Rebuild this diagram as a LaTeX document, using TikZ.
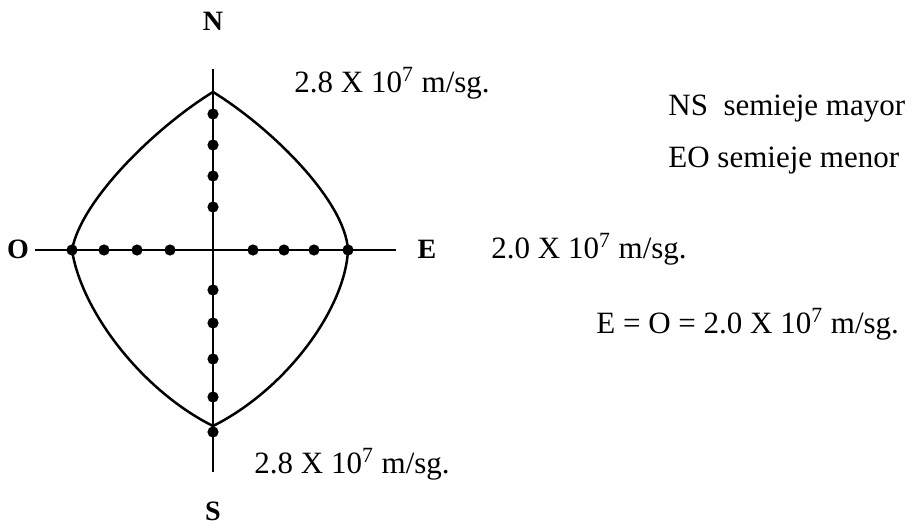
\documentclass[tikz,border=0pt]{standalone}
\usepackage{fontspec}
\setmainfont{Liberation Serif}
\usetikzlibrary{positioning}

\tikzset{
  axisline/.style={line width=0.75pt},
  orbit/.style={line width=1.25pt},
  dotmark/.style={circle,fill=black,inner sep=0pt,minimum size=5.6pt},
  compass/.style={font=\fontsize{14}{16}\selectfont\bfseries,inner sep=0pt},
  speed/.style={font=\fontsize{15.5}{18}\selectfont,inner sep=0pt,anchor=base west}
}

\begin{document}
\begin{tikzpicture}[x=0.5pt,y=-0.5pt]
  \useasboundingbox (0,0) rectangle (924,524);
  % axes
  \coordinate (top) at (213,69);
  \coordinate (bottom) at (213,472);
  \coordinate (left) at (35,250);
  \coordinate (right) at (396,250);
  \draw[axisline] (top) -- (bottom);
  \draw[axisline] (left) -- (right);
  % compass labels
  \node[compass,anchor=base] (north) at (213,31) {N};
  \node[compass,anchor=base] (south) at (213,520) {S};
  \node[compass,anchor=base] (west) at (18,258) {O};
  \node[compass,anchor=base] (east) at (427,258) {E};
  % orbit outline
  \coordinate (apexN) at (213,92);
  \coordinate (apexS) at (213,426);
  \coordinate (apexE) at (348,250);
  \coordinate (apexO) at (72,250);
  \draw[orbit] (apexN) .. controls (270,127) and (345,200) .. (apexE)
    .. controls (345,310) and (285,390) .. (apexS)
    .. controls (141,390) and (81,310) .. (apexO)
    .. controls (81,200) and (156,127) .. (apexN);
  % dots on the axes
  \foreach \y in {114,145,176,207,290,323,359,397,432}
    \node[dotmark] at (213,\y) {};
  \foreach \x in {72,104,137,170,253,284,314,348}
    \node[dotmark] at (\x,250) {};
  % texts
  \node[speed] (vtop) at (294,92) {2.8 X 10\textsuperscript{7} m/sg.};
  \node[speed] (vbottom) at (254,473) {2.8 X 10\textsuperscript{7} m/sg.};
  \node[speed] (vside) at (491,258) {2.0 X 10\textsuperscript{7} m/sg.};
  \node[speed] (major) at (668,115) {NS\ \ semieje mayor};
  \node[speed] (minor) at (668,167) {EO semieje menor};
  \node[speed] (equal) at (596,333) {E = O = 2.0 X 10\textsuperscript{7} m/sg.};
\end{tikzpicture}
\end{document}
